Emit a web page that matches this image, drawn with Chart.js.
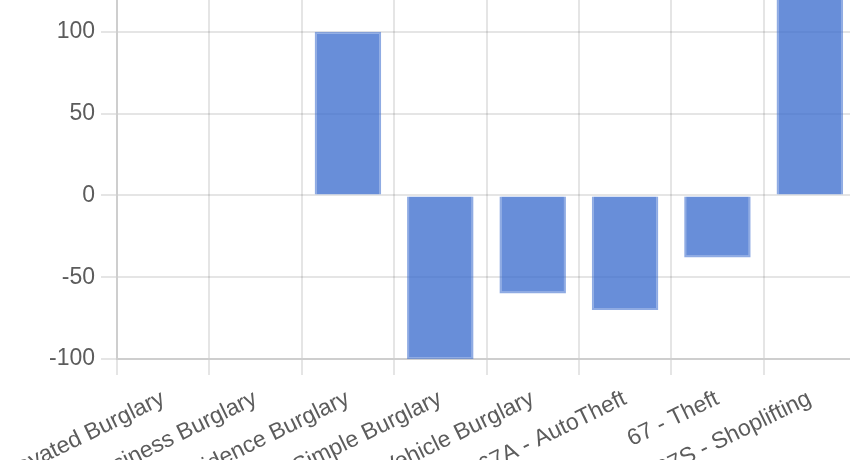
<!DOCTYPE html>
<html>
<head>
<meta charset="utf-8">
<script src="https://cdn.jsdelivr.net/npm/chart.js@4"></script>
<style>
    html, body { margin: 0; padding: 0; background: #fff; overflow: hidden; }
    #frame { position: relative; width: 850px; height: 462px; overflow: hidden; }
    #wrap { position: absolute; left: 0; top: -60px; width: 860px; height: 520px; }
</style>
</head>
<body>
<div id="frame"><div id="wrap"><canvas id="crimeChart"></canvas></div></div>
<script>
// Categories and change per offense
const categories = [
    'Aggravated Burglary',
    'Business Burglary',
    'Residence Burglary',
    'Simple Burglary',
    'Vehicle Burglary',
    '67A - AutoTheft',
    '67 - Theft',
    '67S - Shoplifting'
];
const changeValues = [0, 0, 100, -100, -60, -70, -38, 135];
const yTicks = [-100, -50, 0, 50, 100, 150];

const textColor = '#5c5c5c';
const gridColor = 'rgba(0, 0, 0, 0.1)';
const font = { family: '"Liberation Sans", Arial, Helvetica, sans-serif', size: 23 };

const ctx = document.getElementById('crimeChart').getContext('2d');
new Chart(ctx, {
    type: 'bar',
    data: {
        labels: categories,
        datasets: [{
            label: 'Change',
            data: changeValues,
            backgroundColor: 'rgba(51, 102, 204, 0.74)',
            borderColor: 'rgba(51, 102, 204, 0.55)',
            borderWidth: 2
        }]
    },
    options: {
        responsive: true,
        maintainAspectRatio: false,
        animation: false,
        layout: { padding: { top: 10, right: 4, left: 0, bottom: 0 } },
        plugins: { legend: { display: false }, tooltip: { enabled: false } },
        scales: {
            x: {
                grid: { color: gridColor, lineWidth: 2, tickLength: 16, offset: true },
                border: { color: gridColor, width: 2 },
                ticks: {
                    color: textColor, font: font, autoSkip: false,
                    minRotation: 26, maxRotation: 26, padding: 10
                },
                afterFit: (scale) => {
                    scale.height = 101;
                    scale.paddingLeft = 0;
                    scale.paddingRight = 0;
                }
            },
            y: {
                min: yTicks[0],
                max: yTicks[yTicks.length - 1],
                afterBuildTicks: (scale) => { scale.ticks = yTicks.map(v => ({ value: v })); },
                grid: { color: gridColor, lineWidth: 2, tickLength: 16 },
                border: { color: gridColor, width: 2 },
                ticks: { color: textColor, font: font, padding: 6 },
                afterFit: (scale) => {
                    scale.width = 117;
                    scale.paddingTop = 0;
                    scale.paddingBottom = 0;
                }
            }
        }
    }
});
</script>
</body>
</html>
